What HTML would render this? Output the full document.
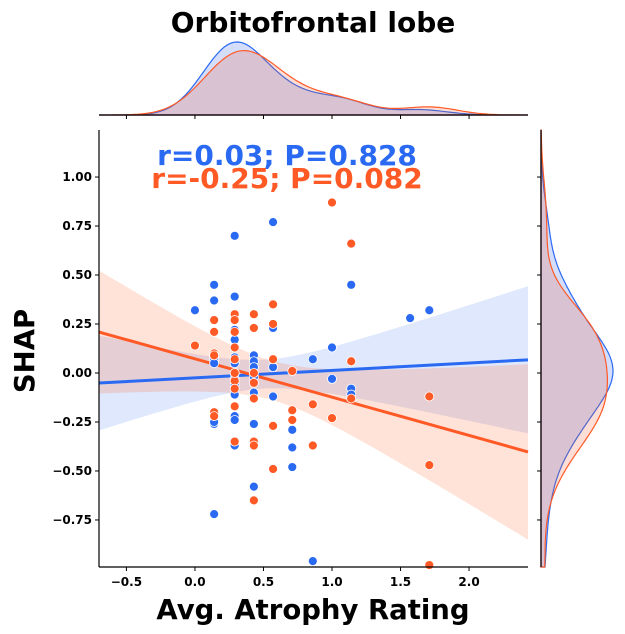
<!DOCTYPE html>
<html><head><meta charset="utf-8"><style>
body{margin:0;background:#fff}
svg{display:block;font-family:"DejaVu Sans","Liberation Sans",sans-serif}
</style></head><body>
<svg id="c" width="625" height="634" viewBox="0 0 625 634" xmlns="http://www.w3.org/2000/svg">
<text x="313" y="32" text-anchor="middle" font-size="28" font-weight="bold">Orbitofrontal lobe</text>
<g id="bands"></g><g id="lines"></g><g id="pts"></g><g id="marg"></g><g id="axes"></g>
<text x="287" y="165" text-anchor="middle" font-size="28" font-weight="bold" fill="#2a6af2">r=0.03; P=0.828</text>
<text x="287" y="188" text-anchor="middle" font-size="28" font-weight="bold" fill="#ff5a26">r=-0.25; P=0.082</text>
<text x="313" y="619" text-anchor="middle" font-size="27.5" font-weight="bold">Avg. Atrophy Rating</text>
<text transform="translate(34,351) rotate(-90)" text-anchor="middle" font-size="27.5" font-weight="bold">SHAP</text>
</svg>
<script>
const blueX=[0,0.14,0.14,0.14,0.14,0.14,0.14,0.14,0.14,0.29,0.29,0.29,0.29,0.29,0.29,0.29,0.29,0.29,0.29,0.29,0.29,0.29,0.43,0.43,0.43,0.43,0.43,0.43,0.43,0.57,0.57,0.57,0.57,0.71,0.71,0.71,0.86,0.86,1.0,1.0,1.14,1.14,1.14,1.57,1.71];
const blueY=[0.32,0.45,0.37,-0.26,-0.25,-0.72,0.09,0.07,0.05,0.70,0.39,0.22,0.17,0.08,0.05,-0.11,-0.22,-0.24,-0.37,-0.03,-0.06,0.0,0.09,0.06,-0.26,-0.58,-0.10,-0.02,0.03,0.77,0.23,0.03,-0.12,-0.29,-0.38,-0.48,0.07,-0.96,0.13,-0.03,0.45,-0.08,-0.11,0.28,0.32];
const orangeX=[0,0.14,0.14,0.14,0.14,0.14,0.14,0.29,0.29,0.29,0.29,0.29,0.29,0.29,0.29,0.29,0.29,0.43,0.43,0.43,0.43,0.43,0.43,0.43,0.43,0.57,0.57,0.57,0.57,0.57,0.71,0.71,0.71,0.86,0.86,1.0,1.0,1.14,1.14,1.14,1.71,1.71,1.71];
const orangeY=[0.14,0.27,0.21,0.10,0.09,-0.20,-0.22,0.30,0.27,0.21,0.13,0.07,-0.04,-0.08,-0.17,-0.35,0.0,0.30,0.23,0.0,-0.05,-0.13,-0.35,-0.37,-0.65,0.35,0.25,0.07,-0.27,-0.49,0.01,-0.19,-0.24,-0.16,-0.37,0.87,-0.23,0.66,0.06,-0.13,-0.12,-0.47,-0.98];
const xTicks=[-0.5,0,0.5,1,1.5,2];
const xTickLabels=["−0.5","0.0","0.5","1.0","1.5","2.0"];
const yTicks=[1,0.75,0.5,0.25,0,-0.25,-0.5,-0.75];
const yTickLabels=["1.00","0.75","0.50","0.25","0.00","−0.25","−0.50","−0.75"];

const X0=99,X1=528,Y0=130,Y1=567,XMIN=-0.7,XMAX=2.43,YMIN=-0.99,YMAX=1.24;
const sx=v=>X0+(v-XMIN)/(XMAX-XMIN)*(X1-X0);
const sy=v=>Y1-(v-YMIN)/(YMAX-YMIN)*(Y1-Y0);
const NS="http://www.w3.org/2000/svg";
function mk(t,a,p){const e=document.createElementNS(NS,t);for(const k in a)e.setAttribute(k,a[k]);p.appendChild(e);return e;}
const series=[{x:blueX,y:blueY,c:"#2a6af2",band:"rgba(80,130,240,0.18)",mf:"rgba(60,100,230,0.22)",n:"blue",t:1.45},
              {x:orangeX,y:orangeY,c:"#ff5a26",band:"rgba(255,110,60,0.2)",mf:"rgba(240,90,50,0.2)",n:"orange",t:2.02}];
const G=id=>document.getElementById(id);
series.forEach(s=>{
  const n=s.x.length,mx=s.x.reduce((a,b)=>a+b)/n,my=s.y.reduce((a,b)=>a+b)/n;
  let sxx=0,sxy=0;for(let i=0;i<n;i++){sxx+=(s.x[i]-mx)**2;sxy+=(s.x[i]-mx)*(s.y[i]-my);}
  const b=sxy/sxx,a=my-b*mx;let sse=0;for(let i=0;i<n;i++)sse+=(s.y[i]-a-b*s.x[i])**2;
  const se=Math.sqrt(sse/(n-2)),t=s.t;
  let up=[],lo=[];
  for(let k=0;k<=60;k++){const xv=XMIN+(XMAX-XMIN)*k/60,yh=a+b*xv,hw=t*se*Math.sqrt(1/n+(xv-mx)**2/sxx);
    up.push(sx(xv).toFixed(1)+","+sy(yh+hw).toFixed(1));lo.unshift(sx(xv).toFixed(1)+","+sy(yh-hw).toFixed(1));}
  const band=mk("polygon",{points:up.concat(lo).join(" "),fill:s.band},G("bands"));
  
  
  const ln=mk("line",{x1:sx(XMIN),y1:sy(a+b*XMIN),x2:sx(XMAX),y2:sy(a+b*XMAX),stroke:s.c,"stroke-width":3},G("lines"));
  
  
  for(let i=0;i<n;i++){
    const p=mk("circle",{cx:sx(s.x[i]),cy:sy(s.y[i]),r:4.5,fill:s.c,stroke:"#fff","stroke-width":0.8},G("pts"));
    
    
  }
});
function kde(d,v){const n=d.length,m=d.reduce((a,b)=>a+b)/n,sd=Math.sqrt(d.reduce((a,b)=>a+(b-m)**2,0)/(n-1)),h=sd*Math.pow(n,-0.2);
  return d.reduce((a,b)=>a+Math.exp(-0.5*((v-b)/h)**2),0)/(n*h*Math.sqrt(2*Math.PI));}
const TB=115,TT=40,RL=541,RR=615;
let kx=[],ky=[];
series.forEach(s=>{let A=[],B=[];
  for(let k=0;k<=120;k++){const xv=XMIN+(XMAX-XMIN)*k/120;A.push([xv,kde(s.x,xv)]);}
  for(let k=0;k<=120;k++){const yv=YMIN+(YMAX-YMIN)*k/120;B.push([yv,kde(s.y,yv)]);}
  kx.push(A);ky.push(B);});
const mxk=Math.max(...kx.flat().map(p=>p[1])),myk=Math.max(...ky.flat().map(p=>p[1]));
series.forEach((s,i)=>{
  const pts=kx[i].map(p=>sx(p[0]).toFixed(1)+","+(TB-p[1]/mxk*(TB-TT-2)).toFixed(1));
  const e=mk("polygon",{points:sx(XMIN)+","+TB+" "+pts.join(" ")+" "+sx(XMAX)+","+TB,fill:s.mf,stroke:s.c,"stroke-width":1.2},G("marg"));
  
  
  const pr=ky[i].map(p=>(RL+p[1]/myk*(RR-RL-2)).toFixed(1)+","+sy(p[0]).toFixed(1));
  const f=mk("polygon",{points:RL+","+Y1+" "+pr.join(" ")+" "+RL+","+Y0,fill:s.mf,stroke:s.c,"stroke-width":1.2},G("marg"));
  
  
});
const ax=G("axes");
mk("line",{x1:X0,y1:Y0,x2:X0,y2:Y1,stroke:"#000","stroke-width":1.2},ax);
mk("line",{x1:X0,y1:Y1,x2:X1,y2:Y1,stroke:"#000","stroke-width":1.2},ax);
mk("line",{x1:X0,y1:TB,x2:X1,y2:TB,stroke:"#000","stroke-width":1.2},ax);
mk("line",{x1:RL,y1:Y0,x2:RL,y2:Y1,stroke:"#000","stroke-width":1.2},ax);
xTicks.forEach((v,i)=>{
  mk("line",{x1:sx(v),y1:Y1,x2:sx(v),y2:Y1+4,stroke:"#000"},ax);
  mk("line",{x1:sx(v),y1:TB,x2:sx(v),y2:TB+4,stroke:"#000"},ax);
  const t=mk("text",{x:sx(v),y:Y1+19,"text-anchor":"middle","font-size":12,"font-weight":"bold"},ax);t.textContent=xTickLabels[i];
  
  
});
yTicks.forEach((v,i)=>{
  mk("line",{x1:X0-4,y1:sy(v),x2:X0,y2:sy(v),stroke:"#000"},ax);
  mk("line",{x1:RL-4,y1:sy(v),x2:RL,y2:sy(v),stroke:"#000"},ax);
  const t=mk("text",{x:X0-7,y:sy(v)+4,"text-anchor":"end","font-size":12,"font-weight":"bold"},ax);t.textContent=yTickLabels[i];
  
  
});
</script>
</body></html>
